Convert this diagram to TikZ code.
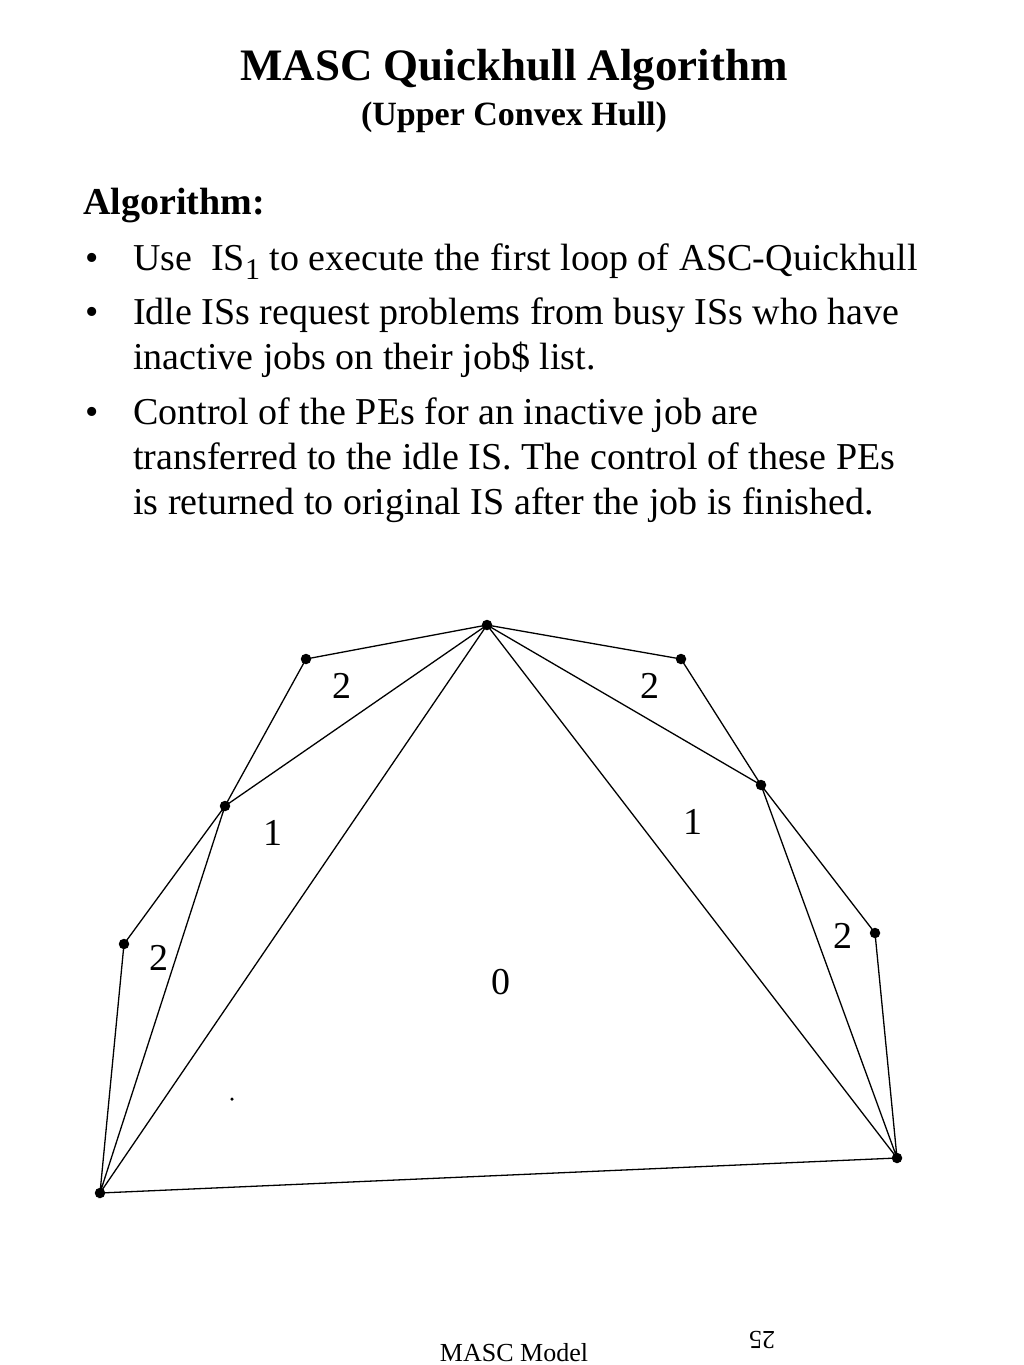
\documentclass[tikz,border=0pt]{standalone}
\usepackage{fontspec}
\setmainfont{Liberation Serif}
\begin{document}
\begin{tikzpicture}[x=1pt,y=-1pt,
  dot/.style={circle,fill=black,inner sep=0pt,minimum size=10.5pt},
  tinydot/.style={circle,fill=black,inner sep=0pt,minimum size=3.5pt},
  edge/.style={line width=1.3pt,black},
  region/.style={font=\fontsize{38}{38}\selectfont,inner sep=0pt},
  body/.style={anchor=base west,inner sep=0pt,font=\fontsize{38}{45}\selectfont},
  bul/.style={anchor=base,inner sep=0pt,font=\fontsize{38}{45}\selectfont}]
\useasboundingbox (0,0) rectangle (1024,1365);
\fill[white] (0,0) rectangle (1024,1365);
% titles
\node[anchor=base,inner sep=0pt,font=\fontsize{45}{50}\selectfont\bfseries] (title) at (514,80) {MASC Quickhull Algorithm};
\node[anchor=base,inner sep=0pt,font=\fontsize{34}{40}\selectfont\bfseries] (subtitle) at (514,125) {(Upper Convex Hull)};
\node[anchor=base west,inner sep=0pt,font=\fontsize{38}{45}\selectfont\bfseries] (alg) at (83,214) {Algorithm:};
% bullets
\node[bul] (b1) at (92,270) {•};
\node[body] (t1) at (133,270) {Use\ \ IS\raisebox{-9pt}{\fontsize{30}{30}\selectfont 1} to execute the first loop of ASC-Quickhull};
\node[bul] (b2) at (92,324) {•};
\node[body] (t2) at (133,324) {Idle ISs request problems from busy ISs who have};
\node[body] (t3) at (133,369) {inactive jobs on their job\$ list.};
\node[bul] (b3) at (92,424) {•};
\node[body] (t4) at (133,424) {Control of the PEs for an inactive job are};
\node[body] (t5) at (133,469) {transferred to the idle IS. The control of these PEs};
\node[body] (t6) at (133,514) {is returned to original IS after the job is finished.};
% points
\node[dot] (T) at (487,625) {};
\node[dot] (L2a) at (306,659) {};
\node[dot] (L1) at (225,806) {};
\node[dot] (L2b) at (124,944) {};
\node[dot] (BL) at (100,1193) {};
\node[dot] (R2a) at (681,659) {};
\node[dot] (R1) at (761,785) {};
\node[dot] (R2b) at (875,933) {};
\node[dot] (BR) at (897,1158) {};
\node[tinydot] (sd) at (232,1099) {};
% edges
\draw[edge] (T.center) -- (L2a.center) -- (L1.center) -- (T.center);
\draw[edge] (L1.center) -- (L2b.center) -- (BL.center) -- (L1.center);
\draw[edge] (T.center) -- (BL.center) -- (BR.center) -- (T.center);
\draw[edge] (T.center) -- (R2a.center) -- (R1.center) -- (T.center);
\draw[edge] (R1.center) -- (R2b.center) -- (BR.center) -- (R1.center);
% region labels
\node[region] (n2a) at (342,686) {2};
\node[region] (n2b) at (650,686) {2};
\node[region] (n1a) at (273,833) {1};
\node[region] (n1b) at (693,822) {1};
\node[region] (n2c) at (159,958) {2};
\node[region] (n2d) at (843,936) {2};
\node[region] (n0) at (501,982) {0};
% footer
\node[anchor=base,inner sep=0pt,font=\fontsize{26}{26}\selectfont] (foot) at (514,1361) {MASC Model};
\node[inner sep=0pt,rotate=180,font=\fontsize{26}{26}\selectfont] (page) at (762,1340) {25};
\end{tikzpicture}
\end{document}
